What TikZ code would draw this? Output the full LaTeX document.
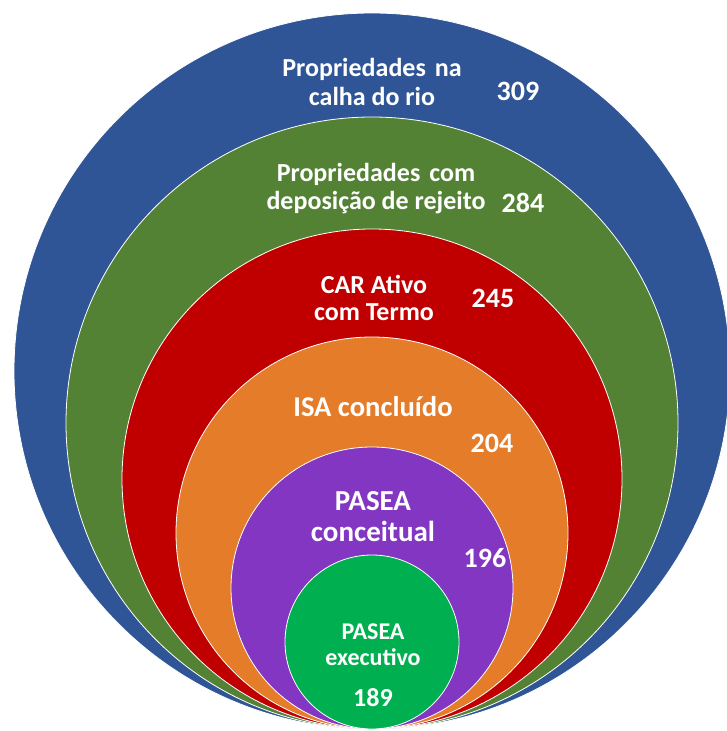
\documentclass[tikz,border=0pt]{standalone}
\usepackage{fontspec}
\setmainfont{Carlito}
\definecolor{ringblue}{HTML}{2F5597}
\definecolor{ringgreen}{HTML}{548235}
\definecolor{ringred}{HTML}{C00000}
\definecolor{ringorange}{HTML}{E57C2A}
\definecolor{ringpurple}{HTML}{8236C2}
\definecolor{ringlime}{HTML}{00B050}
\begin{document}
\begin{tikzpicture}[x=1pt, y=-1pt,
  every node/.style={text=white, align=center, inner sep=0pt},
  fs/.style 2 args={font=\bfseries\fontsize{#1}{#2}\selectfont},
  ring/.style={fill=#1, draw=white, line width=0.8pt}]
\def\cx{372}
\def\by{729}
\useasboundingbox (0,0) rectangle (727,731);

% nested rings, all touching at the bottom
\foreach \r/\col in {358/ringblue, 306/ringgreen, 250/ringred, 196/ringorange, 141/ringpurple, 87/ringlime} {
  \filldraw[ring=\col] (\cx, \by-\r) circle (\r);
}

\node[fs={26}{29}] (calha) at (372,82) {Propriedades\hspace{.12em} na\\calha do rio};
\node[fs={28}{30}] (n309) at (518,91) {309};

\node[fs={26}{28}] (rejeito) at (376,189) {Propriedades\hspace{.12em} com\\deposição de rejeito};
\node[fs={28}{30}] (n284) at (523,203) {284};

\node[fs={26}{27}] (car) at (374,298) {CAR Ativo\\com Termo};
\node[fs={28}{30}] (n245) at (493,298) {245};

\node[fs={28.6}{30}] (isa) at (373,407) {ISA concluído};
\node[fs={28}{30}] (n204) at (492,443) {204};

\node[fs={29}{31}] (conceitual) at (373,517) {PASEA\\conceitual};
\node[fs={28}{30}] (n196) at (485,558) {196};

\node[fs={24}{26}] (executivo) at (373,645) {PASEA\\executivo};
\node[fs={26}{28}] (n189) at (373,698) {189};
\end{tikzpicture}
\end{document}
